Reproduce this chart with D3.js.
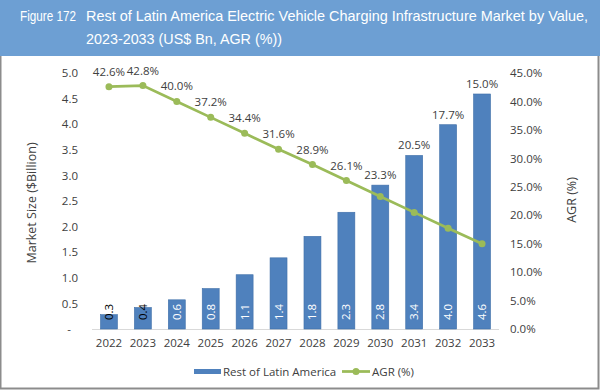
<!DOCTYPE html>
<html>
<head>
<meta charset="utf-8">
<script src="https://cdn.jsdelivr.net/npm/d3@7"></script>
<style>
  body { margin: 0; background: #fff; }
  svg { display: block; }
  text { font-family: "Open Sans", "Noto Sans", sans-serif; fill: #404040; }
  text.title { font-family: "Liberation Sans", Arial, sans-serif; fill: #fff; font-size: 14.5px; }
</style>
</head>
<body>
<svg id="chart" width="600" height="392"></svg>
<script>
const years = ['2022', '2023', '2024', '2025', '2026', '2027', '2028', '2029', '2030', '2031', '2032', '2033']
const marketSize = [0.28, 0.42, 0.57, 0.79, 1.06, 1.39, 1.81, 2.28, 2.81, 3.39, 3.99, 4.59] // $Billion
const agr = [42.6, 42.8, 40.0, 37.2, 34.4, 31.6, 28.9, 26.1, 23.3, 20.5, 17.7, 15.0] // %
const leftTicks = [0, 0.5, 1, 1.5, 2, 2.5, 3, 3.5, 4, 4.5, 5]
const rightTicks = [0, 5, 10, 15, 20, 25, 30, 35, 40, 45]

const barColor = '#4f81bd'
const lineColor = '#9bbb59'

const svg = d3.select('#chart')
const W = 600, H = 392

// 外框 + 标题栏
svg.append('rect').attr('x', 0.5).attr('y', 0.5).attr('width', W - 2).attr('height', H - 4)
  .style('fill', '#fff').style('stroke', '#8c8c8c').style('stroke-width', 2)
svg.append('rect').attr('x', 0).attr('y', 0).attr('width', W).attr('height', 56).style('fill', '#6d9fd3')

// 标题字体偏窄，用 textLength 压缩
svg.append('text').attr('class', 'title').attr('x', 20).attr('y', 21).text('Figure 172')
  .attr('textLength', 56).attr('lengthAdjust', 'spacingAndGlyphs')
svg.append('text').attr('class', 'title').attr('x', 86).attr('y', 21)
  .text('Rest of Latin America Electric Vehicle Charging Infrastructure Market by Value,')
  .attr('textLength', 502).attr('lengthAdjust', 'spacingAndGlyphs')
svg.append('text').attr('class', 'title').attr('x', 86).attr('y', 44).text('2023-2033 (US$ Bn, AGR (%))')
  .attr('textLength', 196).attr('lengthAdjust', 'spacingAndGlyphs')

// 刻度尺
const x = d3.scaleBand().domain(years).range([92, 499]).paddingInner(0.5).paddingOuter(0.25)
const y = d3.scaleLinear().domain([0, 5]).range([329, 73])
const y2 = d3.scaleLinear().domain([0, 45]).range([329, 73])
const cx = (i) => x(years[i]) + x.bandwidth() / 2

// 左轴
const leftAxis = svg.append('g').attr('transform', 'translate(82,0)')
  .call(d3.axisLeft(y).tickValues(leftTicks).tickSize(0).tickPadding(4)
    .tickFormat(d => d === 0 ? '-' : d3.format('.1f')(d)))
leftAxis.select('.domain').remove()
leftAxis.selectAll('text').style('font-size', '11.5px').style('fill', '#404040')
  .style('font-family', '"Open Sans", sans-serif')
leftAxis.selectAll('.tick').filter(d => d === 0).select('text').attr('dx', -7)

// 右轴
const rightAxis = svg.append('g').attr('transform', 'translate(506,0)')
  .call(d3.axisRight(y2).tickValues(rightTicks).tickSize(0).tickPadding(4)
    .tickFormat(d => d3.format('.1f')(d) + '%'))
rightAxis.select('.domain').remove()
rightAxis.selectAll('text').style('font-size', '11.5px').style('fill', '#404040')
  .style('font-family', '"Open Sans", sans-serif')

// X 轴
const xAxis = svg.append('g').attr('transform', 'translate(0,329)')
  .call(d3.axisBottom(x).tickSize(0).tickPadding(10))
xAxis.select('.domain').remove()
xAxis.selectAll('text').style('font-size', '11.5px').style('fill', '#404040')
  .style('font-family', '"Open Sans", sans-serif')
svg.append('line').attr('x1', 92).attr('x2', 499).attr('y1', 329.5).attr('y2', 329.5)
  .style('stroke', '#d9d9d9').style('stroke-width', 1)

// 轴标题
svg.append('text').attr('transform', 'translate(36,203) rotate(-90)').attr('text-anchor', 'middle')
  .style('font-size', '12.5px').text('Market Size ($Billion)')
svg.append('text').attr('transform', 'translate(576,200) rotate(-90)').attr('text-anchor', 'middle')
  .style('font-size', '12.5px').text('AGR (%)')

// 柱子
svg.append('g').selectAll('rect').data(marketSize).join('rect')
  .attr('x', (d, i) => x(years[i]))
  .attr('y', d => y(d))
  .attr('width', x.bandwidth())
  .attr('height', d => y(0) - y(d))
  .style('fill', barColor)
  .style('stroke', '#3f6fa8').style('stroke-width', 0.6)

// 柱子标签 (inside base, rotated)
svg.append('g').selectAll('text').data(marketSize).join('text')
  .attr('transform', (d, i) => `translate(${cx(i) + 4}, 320) rotate(-90)`)
  .attr('text-anchor', 'start')
  .style('font-size', '11.5px')
  .style('fill', d => (y(0) - y(d)) > 22 ? '#fff' : '#000')
  .text(d => d3.format('.1f')(d))

// AGR 线
const line = d3.line().x((d, i) => cx(i)).y(d => y2(d))
svg.append('path').datum(agr).attr('d', line)
  .style('fill', 'none').style('stroke', lineColor).style('stroke-width', 2.75)
svg.append('g').selectAll('circle').data(agr).join('circle')
  .attr('cx', (d, i) => cx(i))
  .attr('cy', d => y2(d))
  .attr('r', 3.5)
  .style('fill', lineColor)
// 标签放在点上方，避开柱子
svg.append('g').selectAll('text').data(agr).join('text')
  .attr('x', (d, i) => cx(i))
  .attr('y', (d, i) => Math.min(y2(d) - 11, y(marketSize[i]) - 6))
  .attr('text-anchor', 'middle')
  .style('font-size', '11.5px')
  .text(d => d3.format('.1f')(d) + '%')

// 图例
const legend = svg.append('g')
legend.append('rect').attr('x', 194).attr('y', 369).attr('width', 27).attr('height', 5).style('fill', barColor)
legend.append('text').attr('x', 223).attr('y', 376).style('font-size', '11.5px').text('Rest of Latin America')
legend.append('line').attr('x1', 342).attr('x2', 370).attr('y1', 371.5).attr('y2', 371.5)
  .style('stroke', lineColor).style('stroke-width', 2.75)
legend.append('circle').attr('cx', 356).attr('cy', 371.5).attr('r', 3.5).style('fill', lineColor)
legend.append('text').attr('x', 372).attr('y', 376).style('font-size', '11.5px').text('AGR (%)')
</script>
</body>
</html>
